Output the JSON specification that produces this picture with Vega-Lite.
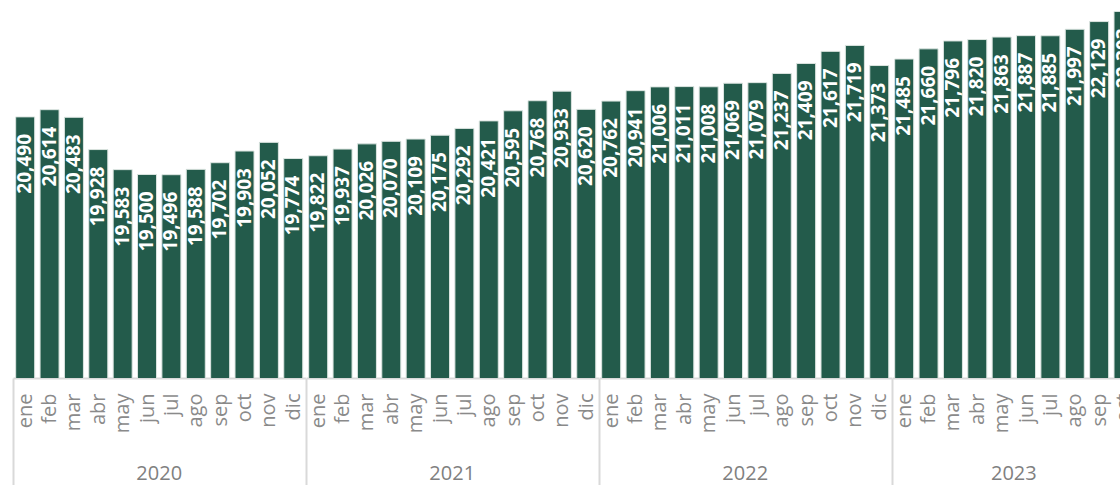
{
  "$schema": "https://vega.github.io/schema/vega-lite/v6.json",
  "padding": {"left": 12, "top": 0, "right": 0, "bottom": 0},
  "background": "white",
  "bounds": "flush",
  "data": {"values": [
    {"year": "2020", "mes": "ene", "value": 20490},
    {"year": "2020", "mes": "feb", "value": 20614},
    {"year": "2020", "mes": "mar", "value": 20483},
    {"year": "2020", "mes": "abr", "value": 19928},
    {"year": "2020", "mes": "may", "value": 19583},
    {"year": "2020", "mes": "jun", "value": 19500},
    {"year": "2020", "mes": "jul", "value": 19496},
    {"year": "2020", "mes": "ago", "value": 19588},
    {"year": "2020", "mes": "sep", "value": 19702},
    {"year": "2020", "mes": "oct", "value": 19903},
    {"year": "2020", "mes": "nov", "value": 20052},
    {"year": "2020", "mes": "dic", "value": 19774},
    {"year": "2021", "mes": "ene", "value": 19822},
    {"year": "2021", "mes": "feb", "value": 19937},
    {"year": "2021", "mes": "mar", "value": 20026},
    {"year": "2021", "mes": "abr", "value": 20070},
    {"year": "2021", "mes": "may", "value": 20109},
    {"year": "2021", "mes": "jun", "value": 20175},
    {"year": "2021", "mes": "jul", "value": 20292},
    {"year": "2021", "mes": "ago", "value": 20421},
    {"year": "2021", "mes": "sep", "value": 20595},
    {"year": "2021", "mes": "oct", "value": 20768},
    {"year": "2021", "mes": "nov", "value": 20933},
    {"year": "2021", "mes": "dic", "value": 20620},
    {"year": "2022", "mes": "ene", "value": 20762},
    {"year": "2022", "mes": "feb", "value": 20941},
    {"year": "2022", "mes": "mar", "value": 21006},
    {"year": "2022", "mes": "abr", "value": 21011},
    {"year": "2022", "mes": "may", "value": 21008},
    {"year": "2022", "mes": "jun", "value": 21069},
    {"year": "2022", "mes": "jul", "value": 21079},
    {"year": "2022", "mes": "ago", "value": 21237},
    {"year": "2022", "mes": "sep", "value": 21409},
    {"year": "2022", "mes": "oct", "value": 21617},
    {"year": "2022", "mes": "nov", "value": 21719},
    {"year": "2022", "mes": "dic", "value": 21373},
    {"year": "2023", "mes": "ene", "value": 21485},
    {"year": "2023", "mes": "feb", "value": 21660},
    {"year": "2023", "mes": "mar", "value": 21796},
    {"year": "2023", "mes": "abr", "value": 21820},
    {"year": "2023", "mes": "may", "value": 21863},
    {"year": "2023", "mes": "jun", "value": 21887},
    {"year": "2023", "mes": "jul", "value": 21885},
    {"year": "2023", "mes": "ago", "value": 21997},
    {"year": "2023", "mes": "sep", "value": 22129},
    {"year": "2023", "mes": "oct", "value": 22303}
  ]},
  "facet": {
    "column": {
      "field": "year",
      "type": "ordinal",
      "header": {
        "title": null,
        "labelOrient": "bottom",
        "labelFont": "Open Sans",
        "labelFontSize": 20,
        "labelColor": "#808080",
        "labelPadding": 86
      }
    }
  },
  "spacing": 0,
  "resolve": {"scale": {"x": "independent"}},
  "spec": {
    "width": {"step": 24.37},
    "height": 378,
    "encoding": {
      "x": {
        "field": "mes",
        "type": "ordinal",
        "sort": ["ene", "feb", "mar", "abr", "may", "jun", "jul", "ago", "sep", "oct", "nov", "dic"],
        "scale": {"paddingInner": 0.22, "paddingOuter": 0.11},
        "axis": {
          "title": null,
          "labelAngle": -90,
          "labelAlign": "right",
          "labelBaseline": "middle",
          "labelFont": "Open Sans",
          "labelFontSize": 20,
          "labelColor": "#8a8a8a",
          "labelPadding": -92,
          "labelOffset": 12.185,
          "tickSize": 107,
          "tickWidth": 2,
          "tickOffset": -12.185,
          "tickColor": {"condition": {"test": "datum.value === 'ene'", "value": "#d9d9d9"}, "value": "transparent"},
          "domainColor": "#d9d9d9",
          "domainWidth": 2,
          "maxExtent": 60,
          "minExtent": 60
        }
      },
      "y": {
        "field": "value",
        "type": "quantitative",
        "scale": {"domain": [16000, 22500], "zero": false},
        "axis": null
      }
    },
    "layer": [
      {
        "mark": {"type": "bar", "color": "#235b4b", "stroke": "#dce5e1", "strokeWidth": 1, "clip": true}
      },
      {
        "mark": {
          "type": "text",
          "angle": -90,
          "align": "right",
          "baseline": "middle",
          "yOffset": 17,
          "color": "white",
          "font": "Open Sans",
          "fontWeight": "bold",
          "fontSize": 19
        },
        "encoding": {
          "text": {"field": "value", "type": "quantitative", "format": ","}
        }
      }
    ]
  },
  "config": {"view": {"stroke": null}}
}
